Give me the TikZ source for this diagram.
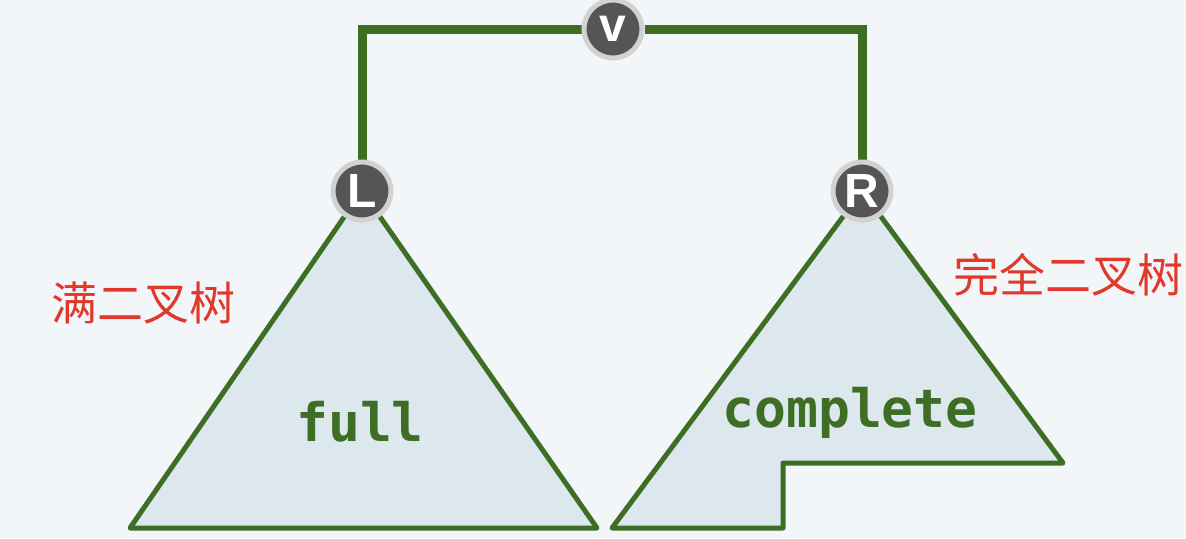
\documentclass[tikz,border=0pt]{standalone}
\usepackage{fontspec}
\setmainfont{Liberation Sans}
\setmonofont{DejaVu Sans Mono}
\newfontfamily\cjk{Noto Sans CJK SC}
\usetikzlibrary{backgrounds}
\definecolor{treegreen}{HTML}{3E6E24}
\definecolor{treefill}{HTML}{DCE7EE}
\definecolor{bgpaper}{HTML}{F3F6F9}
\definecolor{nodegray}{HTML}{555555}
\definecolor{labelred}{HTML}{E0392B}
\begin{document}
\begin{tikzpicture}[
  x=0.5pt,y=-0.5pt,
  vtx/.style={circle,fill=nodegray,draw=gray!35,line width=2.5pt,minimum size=29pt,inner sep=0pt,text=white,font=\bfseries\fontsize{24}{24}\selectfont},
  link/.style={draw=treegreen,line width=4.5pt,line join=miter},
  tree/.style={draw=treegreen,fill=treefill,line width=2.5pt,line join=round},
  kind/.style={text=treegreen,font=\ttfamily\bfseries\fontsize{26.5}{26.5}\selectfont},
  note/.style={text=labelred,font=\cjk\fontsize{23}{23}\selectfont}
]
\useasboundingbox (0,0) rectangle (1186,538);
\node[vtx] (V) at (613,29) {v};
\node[vtx] (L) at (362,191) {L};
\node[vtx] (R) at (862,191) {R};
\node[kind] (full) at (360,422) {full};
\node[kind] (comp) at (850,413) {complete};
\node[note] (fullnote) at (143,303) {满二叉树};
\node[note] (compnote) at (1068,275) {完全二叉树};
\begin{scope}[on background layer]
\fill[bgpaper] (0,0) rectangle (1186,538);
% subtrees
\path[tree] (L.center) -- (130,528) -- (597,528) -- cycle;
\path[tree] (R.center) -- (612,528) -- (783,528) -- (783,463) -- (1063,463) -- cycle;
\draw[link] (V) -| (L);
\draw[link] (V) -| (R);
\end{scope}
\end{tikzpicture}
\end{document}
